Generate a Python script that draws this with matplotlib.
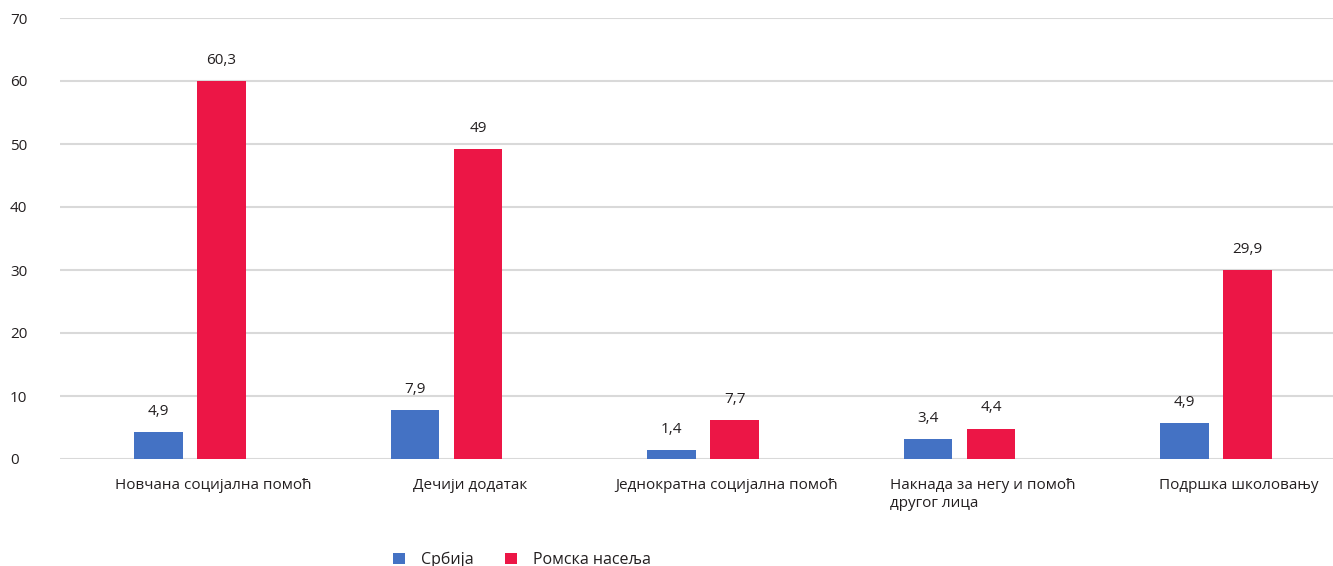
import matplotlib
matplotlib.use("Agg")
import matplotlib.pyplot as plt
import numpy as np

categories = ["Новчана социјална помоћ", "Дечији додатак", "Једнократна социјална помоћ",
              "Накнада за негу и помоћ\nдругог лица", "Подршка школовању"]
series_names = ["Србија", "Ромска насеља"]
serbia_vals = [4.3, 7.8, 1.4, 3.2, 5.7]
roma_vals = [60.0, 49.2, 6.2, 4.8, 30.0]
serbia_labels = ["4,9", "7,9", "1,4", "3,4", "4,9"]
roma_labels = ["60,3", "49", "7,7", "4,4", "29,9"]
yticks = [0, 10, 20, 30, 40, 50, 60, 70]

blue = "#4472C4"
red = "#EC1646"
txt = "#231F20"
font = "Open Sans"
plt.rcParams['font.family'] = [font, 'DejaVu Sans']

W, H = 1333, 566
fig = plt.figure(figsize=(W / 100, H / 100), dpi=100)
ax = fig.add_axes([60 / W, (H - 459) / H, (W - 60) / W, (459 - 18) / H])

x = np.arange(len(categories))
bw = 0.19
off = 0.123
ax.bar(x - off, serbia_vals, bw, color=blue, zorder=3, label=series_names[0])
ax.bar(x + off, roma_vals, bw, color=red, zorder=3, label=series_names[1])

for xi, v, l in zip(x - off, serbia_vals, serbia_labels):
    ax.annotate(l, (xi, v), xytext=(0, 15), textcoords="offset points",
                ha="center", va="center", fontsize=11, color=txt)
for xi, v, l in zip(x + off, roma_vals, roma_labels):
    ax.annotate(l, (xi, v), xytext=(0, 15), textcoords="offset points",
                ha="center", va="center", fontsize=11, color=txt)

ax.set_xlim(-0.507, 4.456)
ax.set_ylim(0, 70)
ax.set_yticks(yticks)
ax.set_yticklabels([str(t) for t in yticks], fontsize=11, color=txt, ha="left")
ax.tick_params(axis="y", length=0, pad=36)
ax.set_xticks(x + 0.09)
ax.set_xticklabels(categories, fontsize=11, color=txt, multialignment="left")
ax.tick_params(axis="x", length=0, pad=14)
ax.grid(axis="y", color="#D9D9D9", linewidth=1.5, zorder=0)
for s in ax.spines.values():
    s.set_visible(False)

fig.legend(loc="center", bbox_to_anchor=(522 / W, 6 / H), ncol=2, frameon=False,
           handlelength=0.75, handleheight=0.75, fontsize=11.5, columnspacing=2.0,
           handletextpad=1.0, labelcolor=txt)

fig.savefig("out.png", dpi=100)
